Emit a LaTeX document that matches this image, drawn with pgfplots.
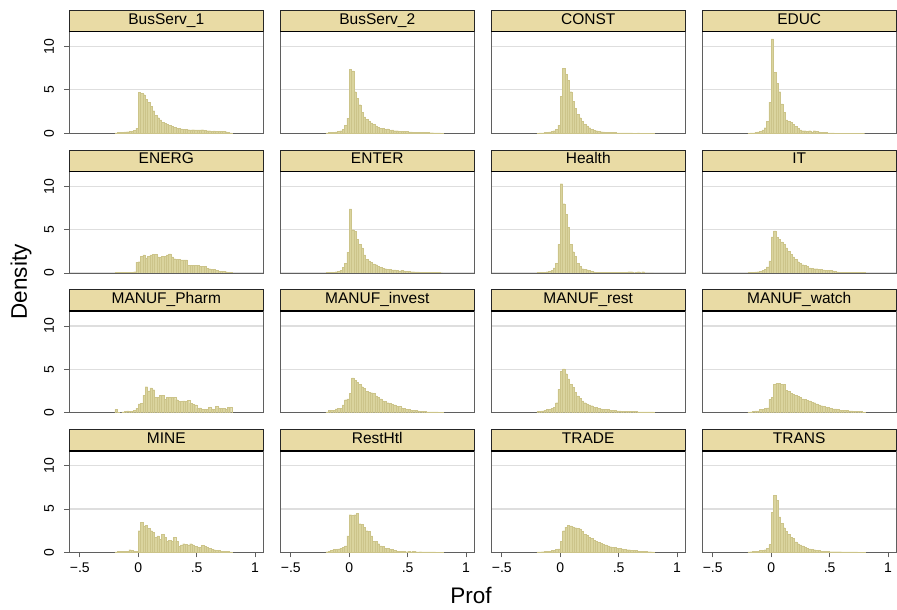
\documentclass[border=0pt]{standalone}
\usepackage{fontspec}
\setmainfont{Liberation Sans}
\usepackage{pgfplots}
\pgfplotsset{compat=1.18}
\usepgfplotslibrary{groupplots}
\definecolor{hdr}{RGB}{233,219,165}
\definecolor{barf}{RGB}{218,212,158}
\definecolor{bare}{RGB}{204,196,138}
\definecolor{gridc}{RGB}{222,222,222}
\definecolor{framec}{RGB}{95,95,95}
\pgfplotsset{
  hist/.style={ybar interval, fill=barf, draw=bare, line width=0.25pt},
  toprow/.style={xtick=\empty},
  inner/.style={yticklabels={}, ytick style={draw=none}},
}
\newcommand{\hist}[1]{\addplot[hist] table[row sep=\\, header=false, x expr={-0.2+0.02*\coordindex}, y index=0] {#1};}
\begin{document}
\begin{tikzpicture}
\begin{groupplot}[
  group style={group size=4 by 4, horizontal sep=17pt, vertical sep=38.1pt},
  scale only axis, width=194pt, height=101.6pt,
  xmin=-0.59, xmax=1.07, ymin=0, ymax=11.72,
  axis line style={framec, line width=0.9pt},
  ytick={0,5,10}, yticklabels={0,5,10},
  xtick={-0.5,0,0.5,1}, xticklabels={−.5,0,.5,1},
  ymajorgrids, major grid style={gridc, line width=1.1pt},
  tick pos=left, tick align=outside, major tick length=5pt,
  tick style={framec, line width=0.9pt},
  ticklabel style={font=\fontsize{14}{16}\selectfont},
  yticklabel style={xshift=-10pt, rotate=90, anchor=south, inner sep=0pt},
  xticklabel style={inner sep=0pt, yshift=-5pt},
  every axis title/.style={at={(0.5,1)}, anchor=south, fill=hdr, draw=black!85, line width=0.8pt, minimum width=194pt, minimum height=21pt, inner sep=0pt, text height=11pt, text depth=4pt, font=\fontsize{15.5}{17}\selectfont},
  extra description/.code={\draw[black, line width=1.6pt] (0,1) -- (1,1);},
]
% Row 1
\nextgroupplot[title={BusServ\_1}, toprow]
\coordinate (TL) at (rel axis cs:0,1);
\hist{0.05\\0.08\\0.1\\0.12\\0.15\\0.18\\0.2\\0.25\\0.35\\0.6\\4.75\\4.6\\4.45\\3.9\\3.6\\3.1\\2.6\\2.1\\1.8\\1.55\\1.3\\1.15\\1.0\\0.9\\0.8\\0.7\\0.6\\0.55\\0.5\\0.45\\0.45\\0.42\\0.4\\0.42\\0.4\\0.38\\0.4\\0.42\\0.35\\0.3\\0.3\\0.25\\0.28\\0.25\\0.22\\0.25\\0.22\\0.18\\0.12\\0.05\\0\\}
\nextgroupplot[title={BusServ\_2}, toprow, inner]
\hist{0.05\\0.08\\0.1\\0.12\\0.15\\0.2\\0.3\\0.45\\0.9\\1.75\\7.4\\7.2\\4.8\\4.0\\3.3\\2.4\\1.9\\1.6\\1.4\\1.2\\1.05\\0.85\\0.7\\0.55\\0.6\\0.45\\0.5\\0.35\\0.4\\0.3\\0.3\\0.25\\0.25\\0.2\\0.2\\0.15\\0.15\\0.12\\0.12\\0.1\\0.1\\0.1\\0.08\\0.08\\0.07\\0.07\\0.05\\0.05\\0.04\\0.03\\0\\}
\nextgroupplot[title={CONST}, toprow, inner]
\hist{0.03\\0.05\\0.05\\0.08\\0.1\\0.15\\0.2\\0.3\\0.45\\0.95\\4.3\\7.5\\6.8\\6.1\\4.8\\3.7\\2.9\\2.2\\1.8\\1.4\\1.05\\0.85\\0.65\\0.45\\0.35\\0.3\\0.2\\0.18\\0.15\\0.12\\0.1\\0.1\\0.08\\0.08\\0.06\\0.06\\0.05\\0.05\\0.05\\0.04\\0.06\\0.03\\0.03\\0.05\\0.02\\0.02\\0.03\\0.02\\0.01\\0.03\\0\\}
\nextgroupplot[title={EDUC}, toprow, inner]
\hist{0.02\\0.05\\0.05\\0.1\\0.15\\0.2\\0.4\\0.65\\1.35\\3.6\\10.9\\7.0\\5.75\\4.8\\3.4\\2.45\\1.55\\1.35\\1.3\\1.0\\0.8\\0.6\\0.4\\0.3\\0.3\\0.25\\0.3\\0.15\\0.3\\0.2\\0.15\\0.1\\0.1\\0.08\\0.05\\0.05\\0.05\\0.03\\0.03\\0.02\\0\\0\\0\\0\\0\\0\\0\\0\\0\\0\\0\\}
% Row 2
\nextgroupplot[title={ENERG}, toprow]
\hist{0.05\\0.05\\0.05\\0.08\\0.05\\0.08\\0.1\\0.1\\0.15\\1.25\\1.3\\1.95\\2.1\\1.75\\1.95\\2.1\\2.15\\2.15\\1.85\\1.8\\1.95\\1.95\\2.1\\2.2\\1.85\\1.65\\1.6\\1.55\\1.5\\1.5\\1.5\\0.9\\0.9\\0.88\\0.85\\0.85\\0.8\\0.75\\0.75\\0.55\\0.5\\0.45\\0.4\\0.3\\0.22\\0.2\\0.18\\0.15\\0.1\\0.05\\0\\}
\nextgroupplot[title={ENTER}, toprow, inner]
\hist{0.05\\0.05\\0.08\\0.1\\0.15\\0.2\\0.3\\0.65\\1.15\\2.4\\7.4\\5.0\\4.8\\3.9\\3.3\\2.9\\2.1\\1.6\\1.4\\1.2\\1.05\\0.95\\0.8\\0.65\\0.55\\0.5\\0.45\\0.4\\0.35\\0.35\\0.3\\0.25\\0.3\\0.25\\0.2\\0.18\\0.15\\0.15\\0.12\\0.12\\0.1\\0.1\\0.08\\0.08\\0.06\\0.06\\0.05\\0.05\\0.04\\0.03\\0\\}
\nextgroupplot[title={Health}, toprow, inner]
\hist{0.05\\0.1\\0.1\\0.1\\0.15\\0.2\\0.3\\0.6\\1.15\\3.3\\10.3\\8.0\\6.8\\5.25\\3.3\\2.45\\1.95\\1.15\\0.8\\0.5\\0.4\\0.38\\0.3\\0.2\\0.12\\0.1\\0.1\\0.08\\0.08\\0.08\\0.07\\0.06\\0.06\\0.05\\0.05\\0.05\\0.05\\0.05\\0.05\\0.15\\0.15\\0.03\\0.05\\0.15\\0.03\\0.15\\0\\0\\0\\0\\0\\}
\nextgroupplot[title={IT}, toprow, inner]
\hist{0.05\\0.08\\0.1\\0.12\\0.15\\0.2\\0.3\\0.45\\0.7\\1.4\\4.15\\4.85\\4.1\\3.9\\3.6\\3.3\\2.9\\2.5\\2.15\\1.85\\1.55\\1.3\\1.1\\0.95\\0.85\\0.75\\0.6\\0.55\\0.5\\0.5\\0.45\\0.45\\0.35\\0.3\\0.3\\0.3\\0.25\\0.2\\0.12\\0.1\\0.08\\0.08\\0.08\\0.07\\0.07\\0.06\\0.06\\0.05\\0.05\\0.04\\0\\}
% Row 3
\nextgroupplot[title={MANUF\_Pharm}, toprow]
\hist{0.35\\0.05\\0\\0.1\\0.15\\0.2\\0.15\\0.15\\0.3\\0.5\\1.0\\1.05\\2.0\\3.0\\2.5\\2.85\\2.65\\1.75\\1.8\\2.0\\2.0\\1.55\\1.75\\1.75\\1.75\\1.75\\1.5\\1.3\\1.3\\1.35\\1.3\\1.4\\1.1\\0.95\\0.9\\0.5\\0.55\\0.4\\0.4\\0.4\\0.65\\0.45\\0.4\\0.7\\0.55\\0.5\\0.5\\0.45\\0.65\\0.65\\0\\}
\nextgroupplot[title={MANUF\_invest}, toprow, inner]
\hist{0.1\\0.25\\0.27\\0.3\\0.45\\0.5\\0.5\\0.9\\1.5\\1.6\\2.2\\4.0\\3.75\\3.5\\3.3\\3.0\\2.8\\2.45\\2.35\\2.3\\2.2\\1.95\\1.8\\1.6\\1.35\\1.3\\1.15\\1.1\\0.95\\0.9\\0.75\\0.7\\0.55\\0.5\\0.4\\0.35\\0.3\\0.28\\0.25\\0.2\\0.15\\0.12\\0.12\\0.1\\0.1\\0.1\\0.08\\0.08\\0.05\\0.03\\0\\}
\nextgroupplot[title={MANUF\_rest}, toprow, inner]
\hist{0.12\\0.15\\0.2\\0.3\\0.35\\0.4\\0.5\\0.65\\1.15\\2.7\\4.8\\5.05\\4.5\\3.9\\3.3\\2.9\\2.35\\1.95\\1.65\\1.35\\1.15\\1.0\\0.9\\0.8\\0.65\\0.6\\0.5\\0.45\\0.4\\0.4\\0.35\\0.3\\0.28\\0.25\\0.22\\0.2\\0.18\\0.15\\0.15\\0.14\\0.13\\0.12\\0.12\\0.1\\0.1\\0.1\\0.1\\0.1\\0.1\\0.08\\0\\}
\nextgroupplot[title={MANUF\_watch}, toprow, inner]
\hist{0.05\\0.1\\0.15\\0.2\\0.2\\0.35\\0.4\\0.5\\0.55\\1.55\\1.75\\3.3\\3.4\\3.4\\3.3\\3.25\\2.6\\2.45\\2.25\\2.15\\2.0\\1.9\\1.75\\1.6\\1.55\\1.4\\1.35\\1.2\\1.15\\1.0\\0.9\\0.8\\0.7\\0.65\\0.6\\0.5\\0.45\\0.45\\0.4\\0.3\\0.3\\0.25\\0.25\\0.2\\0.2\\0.18\\0.15\\0.15\\0.12\\0.05\\0\\}
% Row 4
\nextgroupplot[title={MINE}]
\hist{0.05\\0.1\\0.1\\0.1\\0.1\\0.15\\0.3\\0.2\\0.15\\0.1\\2.5\\3.5\\3.05\\3.1\\2.75\\2.5\\2.3\\1.7\\1.9\\1.5\\2.1\\1.7\\1.3\\1.4\\1.3\\1.7\\1.3\\0.7\\0.85\\1.0\\0.95\\0.85\\1.0\\0.85\\0.7\\0.6\\0.55\\0.8\\0.7\\0.55\\0.45\\0.35\\0.3\\0.25\\0.2\\0.15\\0.15\\0.15\\0.1\\0.05\\0\\}
\nextgroupplot[title={RestHtl}, inner]
\hist{0.08\\0.15\\0.25\\0.35\\0.35\\0.4\\0.5\\0.6\\0.75\\1.9\\4.35\\4.3\\4.35\\4.5\\3.3\\3.2\\2.9\\2.5\\2.4\\1.9\\1.3\\1.3\\1.0\\0.75\\0.7\\0.5\\0.45\\0.35\\0.35\\0.25\\0.15\\0.12\\0.1\\0.1\\0.08\\0.1\\0.08\\0.1\\0.08\\0.06\\0.08\\0.05\\0.05\\0.05\\0.04\\0.04\\0.05\\0.03\\0.03\\0.02\\0\\}
\nextgroupplot[title={TRADE}, inner]
\hist{0.05\\0.06\\0.08\\0.1\\0.12\\0.15\\0.2\\0.25\\0.35\\0.4\\1.3\\2.5\\2.9\\3.15\\3.05\\2.95\\2.85\\2.8\\2.7\\2.4\\2.1\\2.0\\1.75\\1.6\\1.4\\1.3\\1.15\\1.05\\0.95\\0.85\\0.75\\0.65\\0.6\\0.55\\0.5\\0.45\\0.4\\0.35\\0.3\\0.3\\0.25\\0.22\\0.2\\0.15\\0.12\\0.1\\0.1\\0.08\\0.07\\0.05\\0\\}
\nextgroupplot[title={TRANS}, inner]
\hist{0.05\\0.07\\0.1\\0.1\\0.15\\0.2\\0.25\\0.3\\0.45\\0.9\\4.6\\6.6\\6.0\\4.1\\3.35\\2.85\\2.4\\2.1\\1.75\\1.6\\1.2\\1.0\\0.85\\0.75\\0.6\\0.45\\0.4\\0.35\\0.3\\0.25\\0.2\\0.15\\0.12\\0.1\\0.1\\0.08\\0.08\\0.08\\0.07\\0.07\\0.06\\0.06\\0.05\\0.05\\0.05\\0.04\\0.04\\0.03\\0.03\\0.02\\0\\}
\end{groupplot}
\path (TL) ++(-69.3pt,31.7pt) rectangle ++(897pt,-610pt);
\node[rotate=90, font=\fontsize{22.5}{26}\selectfont] at ([shift={(-48.3pt,-250.3pt)}]TL) {Density};
\node[font=\fontsize{22.5}{26}\selectfont] at ([shift={(401.7pt,-564.3pt)}]TL) {Prof};
\end{tikzpicture}
\end{document}
